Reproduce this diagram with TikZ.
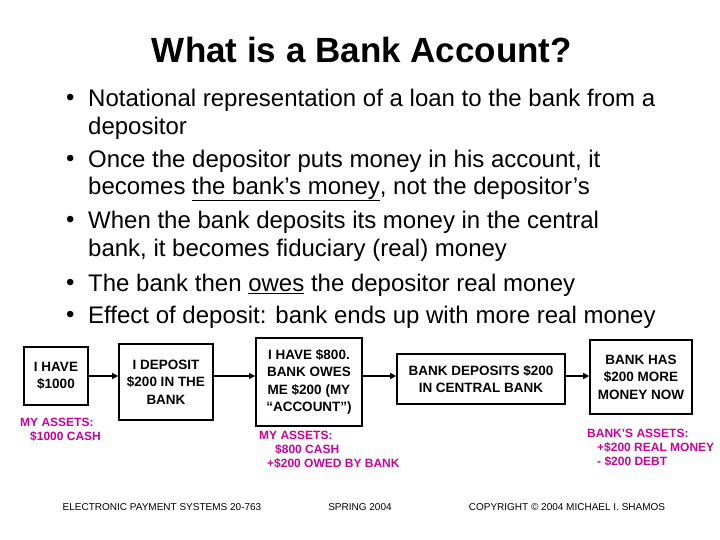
\documentclass[tikz,border=0pt]{standalone}
\usepackage{fontspec}
\setmainfont{Liberation Sans}
\usetikzlibrary{arrows.meta}
\definecolor{mag}{RGB}{204,0,153}
\tikzset{box/.style={draw,line width=1.6pt,align=center,font=\bfseries\fontsize{13.5}{17.5}\selectfont,inner sep=1pt},
 lab/.style={anchor=north west,align=left,text=mag,font=\bfseries\fontsize{12}{14}\selectfont,inner sep=0pt},
 foot/.style={font=\fontsize{10}{12}\selectfont,inner sep=0pt},
 bul/.style={anchor=west,inner sep=0pt,font=\fontsize{24}{28}\selectfont},
 arr/.style={-{Triangle[length=6pt,width=6pt]},line width=1.3pt}}
\begin{document}
\begin{tikzpicture}[x=1pt,y=-1pt]
\useasboundingbox (0,0) rectangle (720,540);
\node[font=\bfseries\fontsize{35}{40}\selectfont] (title) at (362,50) {What is a Bank Account?};
\foreach \y/\t [count=\i] in {100/{Notational representation of a loan to the bank from a},161/{Once the depositor puts money in his account, it},222/{When the bank deposits its money in the central},285/{The bank then \underline{owes} the depositor real money},317/{Effect of deposit: bank ends up with more real money}}{
 \node[bul] (b\i) at (88,\y) {\t};
 \node[bul] (d\i) at (66,\y) {•};}
\node[bul] (c1) at (88,128) {depositor};
\node[bul] (c2) at (88,189) {becomes \underline{the bank’s money}, not the depositor’s};
\node[bul] (c3) at (88,250) {bank, it becomes fiduciary (real) money};
\node[box,minimum width=64pt,minimum height=58pt] (n1) at (56,376) {I HAVE\\\$1000};
\node[box,minimum width=94pt,minimum height=76pt] (n2) at (166,382) {I DEPOSIT\\\$200 IN THE\\BANK};
\node[box,minimum width=106pt,minimum height=88pt] (n3) at (309,382) {I HAVE \$800.\\BANK OWES\\ME \$200 (MY\\“ACCOUNT”)};
\node[box,minimum width=168pt,minimum height=50pt] (n4) at (481,379) {BANK DEPOSITS \$200\\IN CENTRAL BANK};
\node[box,minimum width=102pt,minimum height=74pt] (n5) at (641,377) {BANK HAS\\\$200 MORE\\MONEY NOW};
\draw[arr] (n1.east |- 0,376) -- (n2.west |- 0,376);
\draw[arr] (n2.east |- 0,376) -- (n3.west |- 0,376);
\draw[arr] (n3.east |- 0,376) -- (n4.west |- 0,376);
\draw[arr] (n4.east |- 0,376) -- (n5.west |- 0,376);
\node[lab] (l1) at (20,418) {MY ASSETS:\\\hspace*{10pt}\$1000 CASH};
\node[lab] (l2) at (259,431) {MY ASSETS:\\\hspace*{16pt}\$800 CASH\\\hspace*{8pt}+\$200 OWED BY BANK};
\node[lab] (l3) at (587,429) {BANK’S ASSETS:\\\hspace*{10pt}+\$200 REAL MONEY\\\hspace*{10pt}- \$200 DEBT};
\node[foot] (f1) at (162,507) {ELECTRONIC PAYMENT SYSTEMS 20-763};
\node[foot] (f2) at (360,507) {SPRING 2004};
\node[foot] (f3) at (567,507) {COPYRIGHT © 2004 MICHAEL I. SHAMOS};
\end{tikzpicture}
\end{document}
